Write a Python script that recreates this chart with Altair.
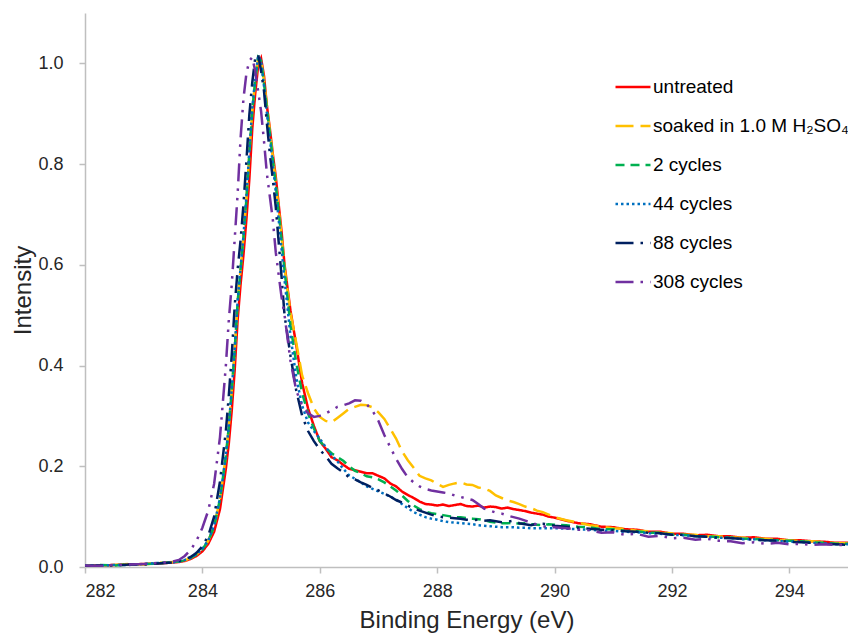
import altair as alt
import pandas as pd

# Binding energy grid (eV)
energy = [282.0, 282.25, 282.5, 282.75, 283.0, 283.25, 283.5,
          283.6, 283.7, 283.8, 283.9, 284.0, 284.1, 284.2, 284.3, 284.4,
          284.45, 284.5, 284.55, 284.6, 284.65, 284.7, 284.75, 284.8, 284.85, 284.9,
          284.95, 285.0, 285.05, 285.1, 285.15, 285.2, 285.25, 285.3, 285.35, 285.4,
          285.5, 285.6, 285.7, 285.8, 285.9, 286.0, 286.1, 286.2, 286.3, 286.4,
          286.5, 286.6, 286.7, 286.8, 286.9, 287.0, 287.1, 287.2, 287.3, 287.4,
          287.5, 287.6, 287.7, 287.8, 287.9, 288.0, 288.1, 288.2, 288.3, 288.4,
          288.5, 288.6, 288.7, 288.8, 288.9, 289.0, 289.1, 289.2, 289.3, 289.4,
          289.5, 289.6, 289.7, 289.8, 289.9, 290.0,
          290.2, 290.4, 290.6, 290.8, 291.0, 291.2, 291.4, 291.6, 291.8, 292.0,
          292.2, 292.4, 292.6, 292.8, 293.0, 293.2, 293.4, 293.6, 293.8, 294.0,
          294.2, 294.4, 294.6, 294.8, 295.0]

untreated = [0.002, 0.003, 0.004, 0.005, 0.006, 0.007, 0.009,
             0.010, 0.012, 0.016, 0.022, 0.031, 0.046, 0.070, 0.115, 0.195,
             0.245, 0.310, 0.390, 0.490, 0.560, 0.620, 0.690, 0.770, 0.870, 0.940,
             0.995, 1.010, 0.975, 0.915, 0.870, 0.820, 0.775, 0.720, 0.665, 0.600,
             0.510, 0.440, 0.365, 0.315, 0.280, 0.250, 0.235, 0.218, 0.212, 0.203,
             0.195, 0.192, 0.189, 0.186, 0.186, 0.181, 0.176, 0.166, 0.160, 0.150,
             0.143, 0.137, 0.130, 0.125, 0.124, 0.122, 0.124, 0.121, 0.123, 0.125,
             0.121, 0.120, 0.122, 0.118, 0.120, 0.119, 0.116, 0.118, 0.115, 0.113,
             0.111, 0.108, 0.106, 0.104, 0.100, 0.098,
             0.092, 0.087, 0.085, 0.080, 0.079, 0.075, 0.074, 0.070, 0.070, 0.066,
             0.066, 0.063, 0.064, 0.061, 0.061, 0.058, 0.059, 0.056, 0.056, 0.053,
             0.053, 0.051, 0.050, 0.048, 0.048]

soaked = [0.003, 0.002, 0.004, 0.006, 0.005, 0.008, 0.010,
          0.011, 0.013, 0.018, 0.025, 0.035, 0.052, 0.080, 0.135, 0.220,
          0.278, 0.350, 0.430, 0.525, 0.590, 0.655, 0.730, 0.820, 0.905, 0.965,
          1.010, 1.005, 0.965, 0.915, 0.865, 0.815, 0.765, 0.710, 0.655, 0.595,
          0.505, 0.445, 0.380, 0.345, 0.315, 0.298, 0.290, 0.287, 0.296, 0.305,
          0.314, 0.318, 0.322, 0.321, 0.317, 0.307, 0.294, 0.275, 0.255, 0.230,
          0.212, 0.197, 0.181, 0.176, 0.172, 0.165, 0.159, 0.163, 0.166, 0.168,
          0.164, 0.163, 0.158, 0.156, 0.151, 0.142, 0.137, 0.132, 0.129, 0.125,
          0.120, 0.117, 0.112, 0.109, 0.104, 0.099,
          0.093, 0.088, 0.083, 0.080, 0.077, 0.076, 0.072, 0.071, 0.068, 0.067,
          0.064, 0.064, 0.061, 0.061, 0.059, 0.058, 0.056, 0.056, 0.054, 0.053,
          0.051, 0.051, 0.049, 0.047, 0.047]

cycles_2 = [0.002, 0.004, 0.003, 0.005, 0.006, 0.007, 0.010,
            0.011, 0.013, 0.018, 0.025, 0.035, 0.052, 0.080, 0.135, 0.220,
            0.278, 0.350, 0.430, 0.525, 0.590, 0.655, 0.730, 0.820, 0.905, 0.965,
            1.012, 1.005, 0.960, 0.910, 0.860, 0.810, 0.760, 0.705, 0.650, 0.590,
            0.480, 0.405, 0.345, 0.305, 0.275, 0.250, 0.237, 0.226, 0.218, 0.211,
            0.200, 0.191, 0.186, 0.180, 0.178, 0.174, 0.168, 0.160, 0.152, 0.142,
            0.131, 0.122, 0.115, 0.110, 0.107, 0.105, 0.103, 0.101, 0.099, 0.099,
            0.097, 0.096, 0.095, 0.093, 0.090, 0.088, 0.087, 0.087, 0.088, 0.086,
            0.087, 0.085, 0.084, 0.083, 0.085, 0.084,
            0.083, 0.080, 0.079, 0.075, 0.075, 0.072, 0.071, 0.068, 0.068, 0.064,
            0.064, 0.061, 0.061, 0.059, 0.058, 0.056, 0.056, 0.054, 0.053, 0.052,
            0.051, 0.049, 0.048, 0.046, 0.046]

cycles_44 = [0.003, 0.003, 0.004, 0.004, 0.006, 0.008, 0.009,
             0.011, 0.014, 0.018, 0.025, 0.036, 0.053, 0.082, 0.137, 0.222,
             0.280, 0.352, 0.432, 0.527, 0.592, 0.658, 0.735, 0.825, 0.910, 0.970,
             1.015, 1.005, 0.955, 0.900, 0.850, 0.800, 0.745, 0.690, 0.630, 0.570,
             0.460, 0.375, 0.320, 0.287, 0.270, 0.255, 0.238, 0.222, 0.210, 0.195,
             0.182, 0.175, 0.168, 0.160, 0.155, 0.150, 0.145, 0.140, 0.134, 0.125,
             0.117, 0.109, 0.104, 0.099, 0.096, 0.094, 0.091, 0.089, 0.088, 0.087,
             0.086, 0.085, 0.083, 0.082, 0.081, 0.080, 0.079, 0.079, 0.079, 0.078,
             0.078, 0.077, 0.077, 0.077, 0.077, 0.077,
             0.076, 0.075, 0.074, 0.072, 0.072, 0.070, 0.069, 0.067, 0.066, 0.064,
             0.063, 0.061, 0.060, 0.058, 0.058, 0.055, 0.055, 0.053, 0.052, 0.050,
             0.050, 0.048, 0.047, 0.045, 0.045]

cycles_88 = [0.002, 0.003, 0.003, 0.005, 0.005, 0.007, 0.009,
             0.012, 0.015, 0.020, 0.028, 0.041, 0.062, 0.100, 0.170, 0.270,
             0.340, 0.420, 0.517, 0.590, 0.648, 0.720, 0.806, 0.898, 0.962, 1.010,
             1.018, 0.985, 0.945, 0.880, 0.820, 0.770, 0.715, 0.645, 0.575, 0.500,
             0.420, 0.350, 0.300, 0.270, 0.250, 0.233, 0.220, 0.205, 0.196, 0.188,
             0.178, 0.174, 0.168, 0.163, 0.157, 0.152, 0.146, 0.140, 0.133, 0.128,
             0.122, 0.116, 0.112, 0.108, 0.104, 0.101, 0.099, 0.098, 0.097, 0.096,
             0.094, 0.093, 0.094, 0.092, 0.093, 0.091, 0.089, 0.090, 0.092, 0.087,
             0.085, 0.083, 0.086, 0.086, 0.084, 0.082,
             0.080, 0.078, 0.076, 0.074, 0.073, 0.071, 0.070, 0.068, 0.067, 0.064,
             0.064, 0.061, 0.060, 0.058, 0.057, 0.056, 0.054, 0.053, 0.052, 0.050,
             0.049, 0.048, 0.046, 0.045, 0.044]

cycles_308 = [0.003, 0.002, 0.004, 0.005, 0.006, 0.008, 0.011,
              0.014, 0.022, 0.034, 0.052, 0.078, 0.112, 0.165, 0.258, 0.400,
              0.490, 0.560, 0.650, 0.740, 0.850, 0.930, 0.980, 1.005, 1.012, 0.985,
              0.945, 0.905, 0.845, 0.780, 0.735, 0.690, 0.625, 0.580, 0.535, 0.500,
              0.410, 0.350, 0.320, 0.305, 0.298, 0.300, 0.305, 0.311, 0.318, 0.321,
              0.325, 0.331, 0.330, 0.323, 0.310, 0.290, 0.262, 0.238, 0.215, 0.195,
              0.178, 0.168, 0.160, 0.155, 0.152, 0.150, 0.148, 0.146, 0.142, 0.139,
              0.136, 0.133, 0.125, 0.116, 0.112, 0.108, 0.106, 0.102, 0.099, 0.096,
              0.092, 0.088, 0.084, 0.081, 0.079, 0.079,
              0.077, 0.074, 0.073, 0.068, 0.069, 0.064, 0.066, 0.060, 0.062, 0.057,
              0.058, 0.054, 0.056, 0.052, 0.051, 0.047, 0.049, 0.046, 0.048, 0.045,
              0.046, 0.044, 0.045, 0.044, 0.043]

series_names = ["untreated", "soaked in 1.0 M H\u2082SO\u2084", "2 cycles",
                "44 cycles", "88 cycles", "308 cycles"]
series_values = [untreated, soaked, cycles_2, cycles_44, cycles_88, cycles_308]
series_colors = ["#FF0000", "#FFC000", "#00B050", "#0070C0", "#002060", "#7030A0"]
series_dashes = [[1, 0], [18, 7], [9, 6], [2.5, 3], [18, 7, 2.5, 7],
                 [18, 7, 2.5, 7, 2.5, 7]]

x_ticks = [282, 284, 286, 288, 290, 292, 294]
y_ticks = [0.0, 0.2, 0.4, 0.6, 0.8, 1.0]

rows = []
for name, vals in zip(series_names, series_values):
    for e, v in zip(energy, vals):
        rows.append({"series": name, "energy": e, "intensity": v})
df = pd.DataFrame(rows)

FONT = "Liberation Sans"

legend = alt.Legend(
    title=None,
    orient="none",
    legendX=529,
    legendY=55,
    symbolType="stroke",
    symbolSize=1225,
    symbolStrokeWidth=2.5,
    labelFont=FONT,
    labelFontSize=19,
    labelColor="#000000",
    labelOffset=1,
    labelLimit=400,
    rowPadding=10,
    padding=0,
)

chart = alt.Chart(df).mark_line(strokeWidth=2.5, clip=True).encode(
    x=alt.X("energy:Q",
            scale=alt.Scale(domain=[282, 295], nice=False, zero=False),
            axis=alt.Axis(values=x_ticks, format="d", title="Binding Energy (eV)")),
    y=alt.Y("intensity:Q",
            scale=alt.Scale(domain=[0, 1.1], nice=False),
            axis=alt.Axis(values=y_ticks, format=".1f", title="Intensity")),
    color=alt.Color("series:N", sort=series_names,
                    scale=alt.Scale(domain=series_names, range=series_colors),
                    legend=legend),
    strokeDash=alt.StrokeDash("series:N", sort=series_names,
                              scale=alt.Scale(domain=series_names, range=series_dashes),
                              legend=legend),
).properties(
    width=763,
    height=554,
    autosize=alt.AutoSizeParams(type="none"),
    padding={"left": 77, "top": 5, "right": 0, "bottom": 67},
).configure_view(
    stroke=None
).configure_axis(
    grid=False,
    domainColor="#BFBFBF",
    domainWidth=1.5,
    tickColor="#BFBFBF",
    tickWidth=1.5,
    tickSize=6,
    labelFont=FONT,
    labelFontSize=18,
    labelColor="#262626",
    titleFont=FONT,
    titleFontSize=24,
    titleFontWeight="normal",
    titleColor="#262626",
).configure_axisX(
    labelPadding=9,
    titlePadding=8,
).configure_axisY(
    labelPadding=16,
    titlePadding=2,
)

chart.save("out.html", embed_options={"renderer": "svg", "actions": False})
